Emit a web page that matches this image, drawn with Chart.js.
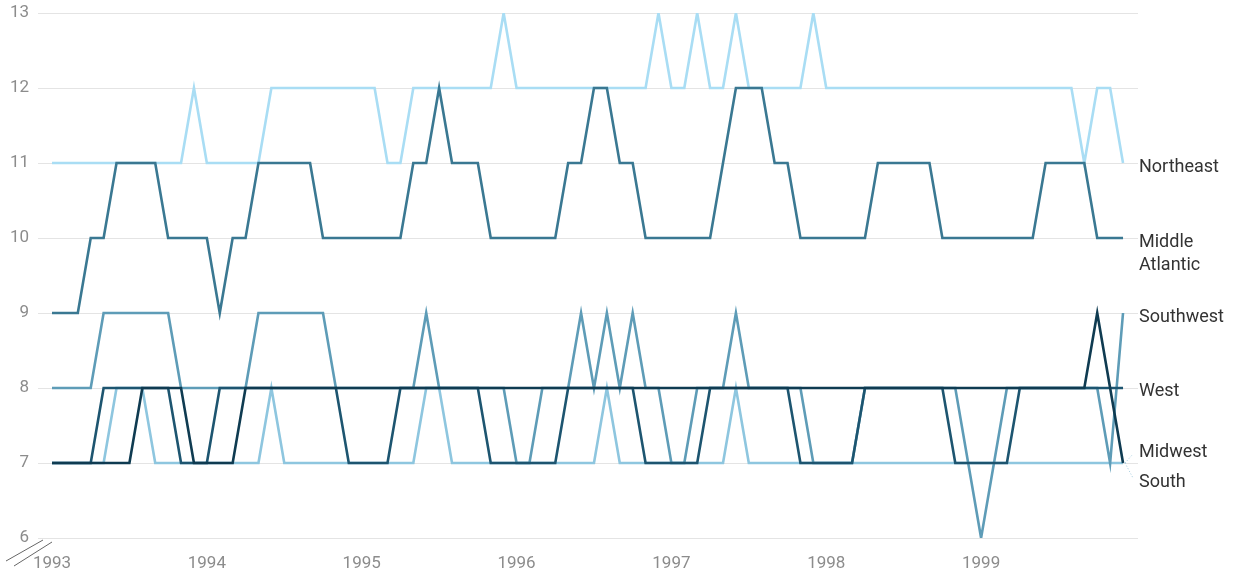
<!DOCTYPE html>
<html lang="en">
  <head>
    <meta charset="UTF-8" />
    <script src="https://cdn.jsdelivr.net/npm/chart.js@4.4.1/dist/chart.umd.min.js"></script>
    <title>Regions</title>
    <style>
      html,
      body {
        margin: 0;
        padding: 0;
        background: #fff;
      }
      .wrap {
        width: 1236px;
        height: 573px;
        position: relative;
      }
    </style>
  </head>
  <body>
    <div class="wrap"><canvas id="myChart" width="1236" height="573"></canvas></div>
    <script>
      // monthly values, Jan 1993 .. Dec 1999
      const years = ["1993", "1994", "1995", "1996", "1997", "1998", "1999"];

      const northeast = [
        11, 11, 11, 11, 11, 11, 11, 11, 11, 11, 11, 12,
        11, 11, 11, 11, 11, 12, 12, 12, 12, 12, 12, 12,
        12, 12, 11, 11, 12, 12, 12, 12, 12, 12, 12, 13,
        12, 12, 12, 12, 12, 12, 12, 12, 12, 12, 12, 13,
        12, 12, 13, 12, 12, 13, 12, 12, 12, 12, 12, 13,
        12, 12, 12, 12, 12, 12, 12, 12, 12, 12, 12, 12,
        12, 12, 12, 12, 12, 12, 12, 12, 11, 12, 12, 11,
      ];
      const middleAtlantic = [
        9, 9, 9, 10, 10, 11, 11, 11, 11, 10, 10, 10,
        10, 9, 10, 10, 11, 11, 11, 11, 11, 10, 10, 10,
        10, 10, 10, 10, 11, 11, 12, 11, 11, 11, 10, 10,
        10, 10, 10, 10, 11, 11, 12, 12, 11, 11, 10, 10,
        10, 10, 10, 10, 11, 12, 12, 12, 11, 11, 10, 10,
        10, 10, 10, 10, 11, 11, 11, 11, 11, 10, 10, 10,
        10, 10, 10, 10, 10, 11, 11, 11, 11, 10, 10, 10,
      ];
      const southwest = [
        8, 8, 8, 8, 9, 9, 9, 9, 9, 9, 8, 8,
        8, 8, 8, 8, 9, 9, 9, 9, 9, 9, 8, 8,
        8, 8, 8, 8, 8, 9, 8, 8, 8, 8, 8, 8,
        7, 7, 8, 8, 8, 9, 8, 9, 8, 9, 8, 8,
        7, 7, 8, 8, 8, 9, 8, 8, 8, 8, 8, 7,
        7, 7, 7, 8, 8, 8, 8, 8, 8, 8, 8, 7,
        6, 7, 8, 8, 8, 8, 8, 8, 8, 8, 7, 9,
      ];
      const west = [
        7, 7, 7, 7, 8, 8, 8, 8, 8, 8, 7, 7,
        7, 8, 8, 8, 8, 8, 8, 8, 8, 8, 8, 7,
        7, 7, 7, 8, 8, 8, 8, 8, 8, 8, 7, 7,
        7, 7, 7, 7, 8, 8, 8, 8, 8, 8, 7, 7,
        7, 7, 7, 8, 8, 8, 8, 8, 8, 8, 7, 7,
        7, 7, 7, 8, 8, 8, 8, 8, 8, 8, 7, 7,
        7, 7, 7, 8, 8, 8, 8, 8, 8, 8, 8, 8,
      ];
      const midwest = [
        7, 7, 7, 7, 7, 7, 7, 8, 8, 8, 8, 7,
        7, 7, 7, 8, 8, 8, 8, 8, 8, 8, 8, 8,
        8, 8, 8, 8, 8, 8, 8, 8, 8, 8, 8, 8,
        8, 8, 8, 8, 8, 8, 8, 8, 8, 8, 8, 8,
        8, 8, 8, 8, 8, 8, 8, 8, 8, 8, 8, 8,
        8, 8, 8, 8, 8, 8, 8, 8, 8, 8, 8, 8,
        8, 8, 8, 8, 8, 8, 8, 8, 8, 9, 8, 7,
      ];
      const south = [
        7, 7, 7, 7, 7, 8, 8, 8, 7, 7, 7, 7,
        7, 7, 7, 7, 7, 8, 7, 7, 7, 7, 7, 7,
        7, 7, 7, 7, 7, 8, 8, 7, 7, 7, 7, 7,
        7, 7, 7, 7, 7, 7, 7, 8, 7, 7, 7, 7,
        7, 7, 7, 7, 7, 8, 7, 7, 7, 7, 7, 7,
        7, 7, 7, 7, 7, 7, 7, 7, 7, 7, 7, 7,
        7, 7, 7, 7, 7, 7, 7, 7, 7, 7, 7, 7,
      ];

      const series = [
        { name: ["Midwest"], data: midwest, color: "#0f3b51", shift: -11 },
        { name: ["West"], data: west, color: "#1d5570", shift: 3 },
        { name: ["Middle", "Atlantic"], data: middleAtlantic, color: "#3a7892", shift: 4 },
        { name: ["Southwest"], data: southwest, color: "#5e9cb7", shift: 4 },
        { name: ["South"], data: south, color: "#8ec6df", shift: 19 },
        { name: ["Northeast"], data: northeast, color: "#a9ddf4", shift: 4 },
      ];

      const endLabels = {
        id: "endLabels",
        afterDatasetsDraw(chart) {
          const c = chart.ctx;
          const y = chart.scales.y;
          const x = chart.scales.x;
          c.save();
          c.font = "18px Roboto";
          c.fillStyle = "#333";
          c.textBaseline = "middle";
          c.textAlign = "left";
          series.forEach((s) => {
            const last = s.data[s.data.length - 1];
            const py = y.getPixelForValue(last) + s.shift;
            s.name.forEach((line, k) => {
              c.fillText(line, 1139, py + k * 23);
            });
            if (Math.abs(s.shift) > 8) {
              const px = x.getPixelForValue(s.data.length - 1);
              c.strokeStyle = "#9fc9dc";
              c.setLineDash([1, 2]);
              c.lineWidth = 1;
              c.beginPath();
              c.moveTo(px + 2, y.getPixelForValue(last));
              c.lineTo(1133, py + (s.shift < 0 ? 2 : -4));
              c.stroke();
              c.setLineDash([]);
            }
          });
          // axis break mark
          c.strokeStyle = "#666";
          c.lineWidth = 1;
          c.beginPath();
          c.moveTo(6, 561);
          c.lineTo(43, 540);
          c.moveTo(14, 566);
          c.lineTo(52, 542);
          c.stroke();
          c.restore();
        },
      };

      const ctx = document.getElementById("myChart");
      new Chart(ctx, {
        type: "line",
        data: {
          datasets: series.map((s) => ({
            label: s.name.join(" "),
            data: s.data.map((v, i) => ({ x: i, y: v })),
            borderColor: s.color,
            borderWidth: 2.6,
            pointRadius: 0,
            tension: 0,
            fill: false,
          })),
        },
        plugins: [endLabels],
        options: {
          responsive: false,
          animation: false,
          layout: { padding: { top: 13, right: 98, bottom: 0, left: 0 } },
          plugins: {
            legend: { display: false },
            tooltip: { enabled: false },
          },
          scales: {
            x: {
              type: "linear",
              min: -1.085,
              max: 84.16,
              afterBuildTicks: (axis) => {
                axis.ticks = years.map((_, k) => ({ value: k * 12 }));
              },
              afterFit: (axis) => {
                axis.height = 35;
                axis.paddingLeft = 0;
                axis.paddingRight = 0;
              },
              grid: { display: false },
              border: { display: false },
              ticks: {
                padding: 8,
                maxRotation: 0,
                color: "#8c8c8c",
                font: { family: "Roboto", size: 17 },
                callback: (v) => years[v / 12],
              },
            },
            y: {
              min: 6,
              max: 13,
              afterFit: (axis) => {
                axis.width = 38;
                axis.paddingTop = 0;
                axis.paddingBottom = 0;
              },
              grid: { color: "#e4e4e4", drawTicks: false },
              border: { display: false },
              ticks: {
                stepSize: 1,
                padding: 9,
                color: "#8c8c8c",
                font: { family: "Roboto", size: 17 },
              },
            },
          },
        },
      });
    </script>
  </body>
</html>
